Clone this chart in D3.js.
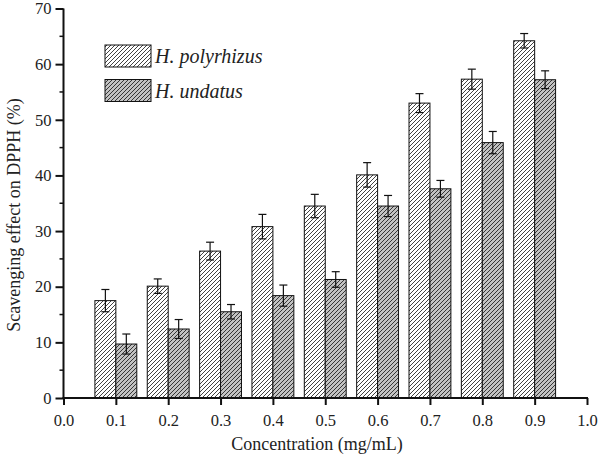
<!DOCTYPE html>
<html>
<head>
<meta charset="utf-8">
<script src="https://cdn.jsdelivr.net/npm/d3@7"></script>
<style>
  body { margin: 0; background: #fff; }
  text { font-family: "Liberation Serif", "Times New Roman", serif; fill: #222; }
</style>
</head>
<body>
<div class="chart"></div>
<script>
// values
const concentrations = [0.1, 0.2, 0.3, 0.4, 0.5, 0.6, 0.7, 0.8, 0.9];
const polyrhizus = [17.5, 20.1, 26.4, 30.8, 34.5, 40.1, 53.0, 57.3, 64.2];
const polyrhizusErr = [2.0, 1.3, 1.6, 2.2, 2.1, 2.2, 1.7, 1.8, 1.3];
const undatus = [9.7, 12.4, 15.5, 18.4, 21.3, 34.5, 37.6, 45.9, 57.2];
const undatusErr = [1.8, 1.7, 1.3, 1.9, 1.4, 1.9, 1.5, 2.0, 1.6];
const seriesNames = ["H. polyrhizus", "H. undatus"];
const xTicks = [0, 0.1, 0.2, 0.3, 0.4, 0.5, 0.6, 0.7, 0.8, 0.9, 1.0];
const yTicks = [0, 10, 20, 30, 40, 50, 60, 70];

const width = 600, height = 456;
const svg = d3.select('.chart').append('svg')
  .attr('width', width).attr('height', height);

// hatch patterns
const defs = svg.append('defs');
function hatch(id, bg) {
  const p = defs.append('pattern').attr('id', id)
    .attr('patternUnits', 'userSpaceOnUse')
    .attr('width', 4).attr('height', 4);
  p.append('rect').attr('width', 4).attr('height', 4).attr('fill', bg);
  p.append('path').attr('d', 'M-1,1 l2,-2 M0,4 l4,-4 M3,5 l2,-2')
    .attr('stroke', '#111').attr('stroke-width', 0.8);
}
hatch('h1', '#ffffff');
hatch('h2', '#c2c2c2');

const x = d3.scaleLinear().domain([0, 1]).range([63.5, 587]);
const y = d3.scaleLinear().domain([0, 70]).range([398, 8.5]);
const bw = 0.04;

const series = [
  {vals: polyrhizus, err: polyrhizusErr, fill: 'url(#h1)', off: -bw},
  {vals: undatus, err: undatusErr, fill: 'url(#h2)', off: 0}
];

series.forEach(s => {
  const g = svg.append('g');
  g.selectAll('rect').data(concentrations).enter().append('rect')
    .attr('x', d => x(d + s.off))
    .attr('y', (d, i) => y(s.vals[i]))
    .attr('width', x(bw) - x(0))
    .attr('height', (d, i) => y(0) - y(s.vals[i]))
    .attr('fill', s.fill)
    .attr('stroke', '#111').attr('stroke-width', 1);
  // error bars
  const e = g.selectAll('.err').data(concentrations).enter().append('g')
    .attr('stroke', '#111').attr('stroke-width', 1.2);
  const cx = d => x(d + s.off + bw / 2);
  e.append('line')
    .attr('x1', cx).attr('x2', cx)
    .attr('y1', (d, i) => y(s.vals[i] - s.err[i]))
    .attr('y2', (d, i) => y(s.vals[i] + s.err[i]));
  e.append('line')
    .attr('x1', d => cx(d) - 4).attr('x2', d => cx(d) + 4)
    .attr('y1', (d, i) => y(s.vals[i] + s.err[i]))
    .attr('y2', (d, i) => y(s.vals[i] + s.err[i]));
  e.append('line')
    .attr('x1', d => cx(d) - 4).attr('x2', d => cx(d) + 4)
    .attr('y1', (d, i) => y(s.vals[i] - s.err[i]))
    .attr('y2', (d, i) => y(s.vals[i] - s.err[i]));
});

// axes
const xAxis = svg.append('g').attr('transform', `translate(0,${y(0)})`)
  .call(d3.axisBottom(x).tickValues(xTicks).tickFormat(d3.format('.1f'))
    .tickSize(7).tickPadding(9));
const yAxis = svg.append('g').attr('transform', `translate(${x(0)},0)`)
  .call(d3.axisLeft(y).tickValues(yTicks).tickSize(8).tickPadding(4));
// minor ticks on y
yAxis.selectAll('.minor').data(d3.range(5, 70, 10)).enter().append('line')
  .attr('x1', 0).attr('x2', -4)
  .attr('y1', d => y(d)).attr('y2', d => y(d))
  .attr('stroke', '#111').attr('stroke-width', 1.5);

[xAxis, yAxis].forEach(a => {
  a.select('.domain').attr('stroke', '#111').attr('stroke-width', 2);
  a.selectAll('.tick line').attr('stroke', '#111').attr('stroke-width', 2);
  a.selectAll('.tick text').attr('font-size', 16.5)
    .attr('font-family', '"Liberation Serif", serif').attr('fill', '#222');
});
xAxis.select('.domain').attr('d', `M${x(0) - 1},0H${x(1) + 1}`);
yAxis.select('.domain').attr('d', `M0,${y(0) + 1}V${y(70)}`);

// titles
svg.append('text')
  .attr('x', 317).attr('y', 450)
  .attr('text-anchor', 'middle').attr('font-size', 18)
  .text('Concentration (mg/mL)');
svg.append('text')
  .attr('transform', 'translate(20,215) rotate(-90)')
  .attr('text-anchor', 'middle').attr('font-size', 18)
  .text('Scavenging effect on DPPH (%)');

// legend
const legend = svg.append('g');
const fills = ['url(#h1)', 'url(#h2)'];
seriesNames.forEach((name, i) => {
  const ly = 45 + i * 34.5;
  legend.append('rect')
    .attr('x', 105).attr('y', ly).attr('width', 46).attr('height', 22)
    .attr('fill', fills[i]).attr('stroke', '#111').attr('stroke-width', 1);
  legend.append('text')
    .attr('x', 155).attr('y', ly + 18)
    .attr('font-size', 20).attr('font-style', 'italic')
    .text(name);
});
</script>
</body>
</html>
